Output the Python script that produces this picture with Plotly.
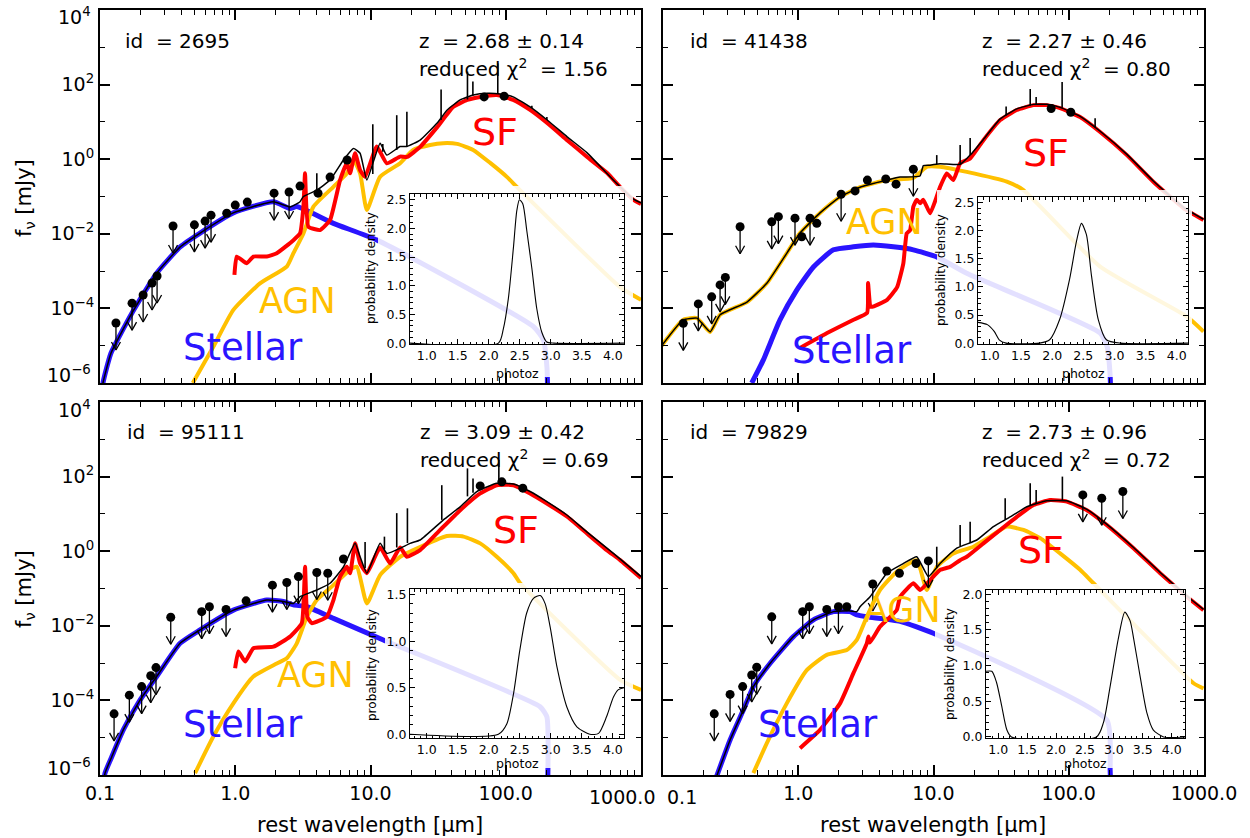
import numpy as np
import plotly.graph_objects as go

W, H = 1250, 838
FONT = "DejaVu Sans"
BLUE = "#2a14ff"
GOLD = "#ffc000"
RED = "#ff0000"
NB = "\u00a0"

# ---------------- panel meta ----------------
PANEL_ID = ["2695", "41438", "95111", "79829"]
PANEL_Z = ["2.68", "2.27", "3.09", "2.73"]
PANEL_ZERR = ["0.14", "0.46", "0.42", "0.96"]
PANEL_CHI2 = ["1.56", "0.80", "0.69", "0.72"]

# ---------------- panel 1 : id 2695 (log10 wavelength [um], log10 flux [mJy]) ----------------
p1_stellar_lx = [-0.99, -0.978, -0.919, -0.763, -0.58, -0.407, -0.26, -0.015, 0.282, 0.405, 0.455, 0.726, 1.049, 2.205, 2.279, 2.305, 2.31]
p1_stellar_ly = [-6.4, -6.0, -5.2, -4.12, -3.05, -2.35, -1.98, -1.44, -1.14, -1.32, -1.27, -1.72, -2.17, -4.49, -4.85, -5.6, -6.3]
p1_agn_lx = [-0.314, -0.162, -0.014, 0.183, 0.381, 0.430, 0.504, 0.578, 0.726, 0.825, 0.874, 0.923, 0.973, 1.071, 1.219, 1.315, 1.441, 1.537, 1.640, 1.759, 1.885, 2.010, 2.084, 2.846, 3.0]
p1_agn_ly = [-6.0, -5.03, -4.04, -3.33, -2.88, -2.52, -1.99, -1.27, -0.74, -0.38, -0.02, -0.38, -1.36, -0.47, -0.11, 0.25, 0.38, 0.43, 0.41, 0.25, -0.10, -0.48, -0.75, -3.43, -3.77]
p1_sf_lx = [-0.006, 0.011, 0.085, 0.134, 0.233, 0.307, 0.430, 0.479, 0.504, 0.516, 0.541, 0.627, 0.701, 0.775, 0.825, 0.849, 0.886, 0.923, 0.960, 1.046, 1.120, 1.219, 1.271, 1.367, 1.493, 1.611, 1.715, 1.811, 1.936, 2.055, 2.180, 2.306, 2.454, 2.602, 2.750, 2.846, 2.944, 3.0]
p1_sf_ly = [-3.10, -2.61, -2.79, -2.61, -2.61, -2.52, -2.17, -1.99, -1.27, -0.38, -1.81, -1.90, -1.63, -0.56, -0.11, -0.38, 0.16, -0.29, -0.47, 0.34, -0.11, 0.07, 0.06, 0.33, 0.86, 1.40, 1.59, 1.67, 1.72, 1.59, 1.32, 0.97, 0.51, 0.06, -0.37, -0.75, -1.09, -1.20]
p1_tot_lx = [-0.99, -0.978, -0.919, -0.763, -0.58, -0.407, -0.26, -0.015, 0.282, 0.405, 0.479, 0.504, 0.603, 0.701, 0.800, 0.874, 0.923, 0.973, 1.071, 1.120, 1.219, 1.269, 1.367, 1.493, 1.567, 1.663, 1.759, 1.863, 1.959, 2.055, 2.180, 2.306, 2.454, 2.602, 2.795, 2.944, 3.0]
p1_tot_ly = [-6.4, -6.0, -5.2, -4.12, -3.05, -2.35, -1.98, -1.44, -1.14, -1.28, -1.14, -1.00, -0.83, -0.56, -0.02, 0.29, 0.16, -0.56, 0.43, 0.11, 0.34, 0.34, 0.51, 0.97, 1.32, 1.59, 1.72, 1.77, 1.75, 1.67, 1.40, 1.05, 0.60, 0.17, -0.56, -1.07, -1.17]
p1_spike_lx = [0.603, 1.017, 1.091, 1.194, 1.269, 1.522, 1.717, 1.757, 1.941, 2.193, 2.304]
p1_spike_base = [-0.83, -0.40, 0.20, 0.25, 0.34, 1.05, 1.60, 1.70, 1.75, 1.37, 1.05]
p1_spike_top = [-0.38, 0.94, 0.41, 1.18, 1.27, 1.87, 2.35, 2.08, 2.57, 1.43, 1.13]
p1_pt_lx = [-0.882, -0.763, -0.681, -0.615, -0.578, -0.460, -0.302, -0.223, -0.179, -0.063, 0.0, 0.089, 0.287, 0.398, 0.479, 0.612, 0.701, 0.827, 1.840, 1.988]
p1_pt_ly = [-4.39, -3.86, -3.64, -3.32, -3.13, -1.79, -1.76, -1.66, -1.50, -1.45, -1.23, -1.15, -0.91, -0.88, -0.72, -0.91, -0.48, -0.02, 1.67, 1.69]
p1_pt_ul = [1, 1, 1, 1, 1, 1, 1, 1, 1, 0, 0, 0, 1, 1, 0, 0, 0, 0, 0, 0]
p1_pdf_z = [0.73, 2.155, 2.235, 2.316, 2.397, 2.452, 2.494, 2.548, 2.613, 2.694, 2.774, 2.855, 2.935, 3.05, 4.18]
p1_pdf_p = [0.0, 0.0, 0.25, 0.78, 1.66, 2.31, 2.50, 2.43, 1.96, 1.31, 0.60, 0.19, 0.02, 0.0, 0.0]

# ---------------- panel 2 : id 41438 ----------------
p2_stellar_lx = [-0.344, -0.258, -0.135, -0.011, 0.112, 0.260, 0.408, 0.555, 0.703, 0.851, 1.024, 1.246, 2.232, 2.284, 2.306, 2.31]
p2_stellar_ly = [-6.0, -5.38, -4.31, -3.51, -2.89, -2.43, -2.35, -2.30, -2.35, -2.43, -2.62, -3.06, -4.66, -5.03, -5.8, -6.3]
p2_agn_lx = [-1.02, -0.852, -0.749, -0.652, -0.578, -0.379, -0.231, -0.083, 0.013, 0.161, 0.309, 0.457, 0.657, 0.851, 0.953, 1.049, 1.246, 1.542, 1.665, 2.232, 2.874, 2.996]
p2_agn_ly = [-5.05, -4.31, -4.26, -4.63, -4.17, -3.83, -3.32, -2.51, -1.98, -1.44, -1.01, -0.75, -0.56, -0.50, -0.20, -0.20, -0.34, -0.60, -0.83, -2.88, -4.22, -4.62]
p2_sf_lx = [0.013, 0.213, 0.405, 0.509, 0.516, 0.538, 0.657, 0.731, 0.777, 0.802, 0.827, 0.851, 0.876, 0.901, 0.925, 0.975, 1.024, 1.049, 1.098, 1.147, 1.197, 1.271, 1.369, 1.493, 1.616, 1.739, 1.838, 1.936, 2.084, 2.232, 2.430, 2.627, 2.848, 2.996]
p2_sf_ly = [-5.06, -4.66, -4.31, -4.12, -3.32, -3.96, -3.77, -3.43, -2.79, -1.99, -1.90, -1.27, -1.09, -1.18, -1.09, -1.45, -1.00, -0.74, -0.38, -0.56, -0.11, 0.02, 0.51, 1.05, 1.32, 1.45, 1.45, 1.37, 1.13, 0.73, 0.11, -0.61, -1.31, -1.63]
p2_tot_lx = [-1.02, -0.852, -0.749, -0.652, -0.578, -0.379, -0.231, -0.083, 0.013, 0.161, 0.309, 0.457, 0.657, 0.753, 0.900, 0.925, 0.975, 1.049, 1.197, 1.271, 1.369, 1.493, 1.616, 1.739, 1.838, 1.936, 2.084, 2.232, 2.430, 2.627, 2.848, 2.996]
p2_tot_ly = [-5.05, -4.31, -4.26, -4.63, -4.17, -3.83, -3.32, -2.51, -1.98, -1.44, -1.01, -0.75, -0.56, -0.48, -0.45, -0.17, -0.16, -0.12, -0.14, 0.11, 0.53, 1.08, 1.35, 1.47, 1.47, 1.39, 1.15, 0.75, 0.13, -0.59, -1.29, -1.61]
p2_spike_lx = [1.024, 1.197, 1.271, 1.537, 1.715, 1.759, 1.951, 2.195]
p2_spike_base = [-0.13, -0.14, 0.11, 1.17, 1.43, 1.47, 1.38, 0.85]
p2_spike_top = [0.11, 0.38, 0.57, 1.41, 1.88, 1.67, 2.07, 1.10]
p2_pt_lx = [-0.850, -0.739, -0.640, -0.578, -0.539, -0.430, -0.196, -0.147, -0.024, 0.026, 0.087, 0.137, 0.317, 0.420, 0.511, 0.647, 0.723, 0.851, 1.870, 2.015]
p2_pt_ly = [-4.40, -3.88, -3.69, -3.37, -3.17, -1.81, -1.68, -1.54, -1.58, -2.08, -1.58, -1.72, -0.94, -0.85, -0.56, -0.53, -0.67, -0.27, 1.36, 1.26]
p2_pt_ul = [1, 1, 1, 1, 1, 1, 1, 1, 1, 0, 1, 0, 1, 0, 0, 0, 0, 1, 0, 0]
p2_pdf_z = [0.81, 0.96, 1.07, 1.15, 1.26, 1.80, 1.96, 2.12, 2.28, 2.39, 2.47, 2.55, 2.63, 2.74, 2.87, 3.09, 4.18]
p2_pdf_p = [0.37, 0.33, 0.21, 0.06, 0.0, 0.0, 0.06, 0.42, 1.14, 1.81, 2.13, 1.93, 1.21, 0.42, 0.06, 0.0, 0.0]

# ---------------- panel 3 : id 95111 ----------------
p3_stellar_lx = [-0.975, -0.963, -0.913, -0.828, -0.704, -0.581, -0.408, -0.260, -0.014, 0.233, 0.356, 0.430, 0.529, 0.726, 1.095, 2.254, 2.304, 2.31]
p3_stellar_ly = [-6.3, -5.95, -5.51, -4.79, -3.99, -3.36, -2.47, -2.11, -1.58, -1.31, -1.35, -1.44, -1.49, -1.80, -2.38, -4.17, -4.44, -6.3]
p3_agn_lx = [-0.297, -0.162, -0.014, 0.134, 0.307, 0.381, 0.455, 0.529, 0.603, 0.726, 0.849, 0.899, 0.973, 1.071, 1.219, 1.317, 1.564, 1.688, 1.811, 1.934, 2.057, 2.107, 2.846, 3.0]
p3_agn_ly = [-5.95, -4.97, -4.08, -3.36, -3.01, -2.87, -2.47, -1.76, -1.31, -0.91, -0.50, -0.42, -1.40, -0.64, -0.15, 0.03, 0.41, 0.39, 0.21, -0.15, -0.59, -0.86, -3.45, -3.72]
p3_sf_lx = [-0.001, 0.023, 0.073, 0.134, 0.282, 0.405, 0.492, 0.516, 0.533, 0.566, 0.677, 0.726, 0.775, 0.825, 0.849, 0.886, 0.923, 0.973, 1.071, 1.145, 1.219, 1.269, 1.367, 1.515, 1.663, 1.811, 1.934, 2.057, 2.180, 2.304, 2.452, 2.599, 2.747, 2.846, 3.0]
p3_sf_ly = [-3.14, -2.69, -2.96, -2.60, -2.56, -2.29, -1.93, -0.42, -1.76, -1.93, -1.76, -1.31, -0.68, -0.42, -0.59, 0.21, -0.33, -0.59, 0.10, -0.33, 0.10, -0.15, 0.03, 0.57, 1.10, 1.55, 1.77, 1.77, 1.55, 1.28, 0.93, 0.48, 0.03, -0.24, -0.72]
p3_tot_lx = [-0.975, -0.963, -0.913, -0.828, -0.704, -0.581, -0.408, -0.260, -0.014, 0.233, 0.356, 0.430, 0.479, 0.603, 0.701, 0.800, 0.886, 0.923, 0.973, 1.071, 1.121, 1.219, 1.293, 1.367, 1.539, 1.663, 1.786, 1.934, 2.057, 2.180, 2.304, 2.452, 2.599, 2.796, 3.0]
p3_tot_ly = [-6.3, -5.95, -5.51, -4.79, -3.99, -3.36, -2.47, -2.11, -1.58, -1.31, -1.35, -1.40, -1.22, -1.04, -0.86, -0.42, 0.21, -0.15, -0.59, 0.21, -0.06, 0.08, 0.21, 0.30, 0.84, 1.19, 1.60, 1.82, 1.80, 1.60, 1.33, 0.97, 0.52, -0.06, -0.68]
p3_spike_lx = [0.960, 1.103, 1.194, 1.273, 1.527, 1.717, 1.758, 1.949]
p3_spike_base = [-0.45, 0.05, 0.10, 0.22, 0.84, 1.47, 1.57, 1.82]
p3_spike_top = [0.25, 0.39, 1.02, 1.15, 1.77, 2.22, 1.95, 2.45]
p3_pt_lx = [-0.896, -0.783, -0.692, -0.625, -0.586, -0.477, -0.248, -0.191, -0.068, 0.080, 0.275, 0.381, 0.467, 0.603, 0.684, 0.800, 1.811, 1.971, 2.126]
p3_pt_ly = [-4.36, -3.86, -3.63, -3.34, -3.12, -1.77, -1.62, -1.49, -1.56, -1.33, -0.91, -0.84, -0.68, -0.57, -0.59, -0.21, 1.75, 1.86, 1.69]
p3_pt_ul = [1, 1, 1, 1, 1, 1, 1, 1, 1, 0, 1, 1, 1, 1, 1, 0, 0, 0, 0]
p3_pdf_z = [0.73, 2.155, 2.29, 2.40, 2.50, 2.61, 2.72, 2.83, 2.91, 2.99, 3.10, 3.26, 3.42, 3.63, 3.77, 3.90, 4.01, 4.09, 4.18]
p3_pdf_p = [0.0, 0.0, 0.11, 0.44, 0.90, 1.30, 1.46, 1.49, 1.40, 1.15, 0.72, 0.29, 0.08, 0.0, 0.01, 0.19, 0.40, 0.48, 0.50]

# ---------------- panel 4 : id 79829 ----------------
p4_stellar_lx = [-0.61, -0.504, -0.406, -0.332, -0.209, -0.036, 0.112, 0.260, 0.383, 0.433, 0.507, 0.753, 0.999, 2.282, 2.306, 2.31]
p4_stellar_ly = [-6.1, -5.06, -4.26, -3.63, -3.01, -2.29, -1.84, -1.62, -1.62, -1.71, -1.76, -1.88, -2.20, -4.53, -5.87, -6.3]
p4_agn_lx = [-0.332, -0.233, -0.085, 0.063, 0.211, 0.359, 0.433, 0.507, 0.605, 0.728, 0.876, 0.950, 1.024, 1.147, 1.295, 1.419, 1.542, 1.665, 1.789, 1.936, 2.084, 2.183, 2.923, 2.996]
p4_agn_ly = [-5.95, -5.15, -4.08, -3.19, -2.78, -2.65, -2.38, -1.76, -1.04, -0.55, -0.24, -1.04, -0.42, -0.06, 0.12, 0.39, 0.66, 0.57, 0.35, -0.06, -0.50, -0.86, -3.54, -3.68]
p4_sf_lx = [0.013, 0.161, 0.309, 0.408, 0.507, 0.519, 0.530, 0.605, 0.728, 0.753, 0.851, 0.901, 0.999, 1.049, 1.123, 1.197, 1.246, 1.369, 1.493, 1.616, 1.739, 1.862, 1.986, 2.134, 2.282, 2.479, 2.676, 2.874, 2.996]
p4_sf_ly = [-5.28, -4.79, -4.08, -3.27, -2.47, -2.29, -2.45, -2.02, -1.58, -1.22, -0.86, -1.04, -0.68, -0.50, -0.42, -0.24, -0.15, 0.21, 0.57, 0.92, 1.24, 1.37, 1.33, 1.10, 0.70, 0.08, -0.59, -1.22, -1.58]
p4_tot_lx = [-0.61, -0.504, -0.406, -0.332, -0.209, -0.036, 0.112, 0.260, 0.383, 0.433, 0.457, 0.531, 0.655, 0.777, 0.876, 0.962, 1.049, 1.172, 1.320, 1.443, 1.567, 1.690, 1.838, 1.986, 2.134, 2.282, 2.479, 2.676, 2.874, 2.996]
p4_tot_ly = [-6.1, -5.06, -4.26, -3.63, -3.01, -2.29, -1.84, -1.62, -1.60, -1.62, -1.49, -1.22, -0.59, -0.33, -0.15, -0.68, -0.33, 0.08, 0.30, 0.66, 0.92, 1.19, 1.35, 1.35, 1.12, 0.72, 0.10, -0.57, -1.20, -1.56]
p4_spike_lx = [1.024, 1.197, 1.271, 1.530, 1.715, 1.759, 1.953]
p4_spike_base = [-0.45, 0.12, 0.22, 0.85, 1.22, 1.27, 1.35]
p4_spike_top = [0.12, 0.70, 0.79, 1.42, 1.82, 1.64, 2.00]
p4_pt_lx = [-0.621, -0.504, -0.411, -0.344, -0.307, -0.196, 0.033, 0.082, 0.211, 0.297, 0.359, 0.551, 0.655, 0.748, 0.871, 0.962, 2.104, 2.244, 2.400]
p4_pt_ly = [-4.36, -3.84, -3.63, -3.32, -3.11, -1.76, -1.62, -1.49, -1.56, -1.49, -1.49, -0.88, -0.53, -0.59, -0.33, -0.26, 1.51, 1.42, 1.60]
p4_pt_ul = [1, 1, 1, 1, 1, 1, 1, 1, 1, 1, 0, 1, 0, 0, 0, 1, 1, 1, 1]
p4_pdf_z = [0.79, 0.89, 0.97, 1.06, 1.15, 1.23, 2.70, 2.82, 2.93, 3.08, 3.19, 3.28, 3.34, 3.46, 3.57, 3.68, 3.86, 4.23]
p4_pdf_p = [0.92, 0.92, 0.77, 0.44, 0.10, 0.0, 0.0, 0.20, 0.68, 1.39, 1.75, 1.63, 1.39, 0.82, 0.34, 0.10, 0.0, 0.0]

# ---------------- axis tick labels ----------------
X_TICKS = [0.1, 1.0, 10.0, 100.0, 1000.0]
X_TICKTEXT = ["0.1", "1.0", "10.0", "100.0", "1000.0"]
Y_TICKS = [1e-6, 1e-4, 1e-2, 1e0, 1e2, 1e4]
Y_TICKTEXT = ["10<sup>\u22126</sup>", "10<sup>\u22124</sup>", "10<sup>\u22122</sup>",
              "10<sup>0</sup>", "10<sup>2</sup>", "10<sup>4</sup>"]

# ---------------- layout geometry (pixels) ----------------
MAIN_BOX = [(100, 641, 10, 383), (663, 1204, 10, 383), (100, 641, 402, 775), (663, 1204, 402, 775)]
INSET_BOX = [(410, 624, 194, 344), (978, 1188, 197, 344), (410, 624, 589, 738), (986, 1185, 590, 738)]
INSET_XR = [[0.73, 4.18], [0.81, 4.18], [0.73, 4.18], [0.79, 4.23]]
INSET_YR = [[-0.015, 2.6], [-0.015, 2.6], [-0.04, 1.56], [-0.015, 2.06]]
INSET_YMAX = [2.5, 2.5, 1.5, 2.0]
FADE_BOX = [(378, 633, 186, 377), (937, 1192, 190, 377), (385, 633, 583, 768), (935, 1191, 584, 768)]
LAB_SF = [(495, 132), (1046, 153), (516, 530), (1041, 550)]
LAB_AGN = [(297, 301), (884, 222), (315, 675), (902, 610)]
LAB_ST = [(243, 347), (852, 350), (243, 724), (818, 724)]
ID_POS = [(123, 41), (688, 41), (125, 432), (688, 432)]
Z_POS = [(417, 41), (980, 41), (418, 432), (980, 432)]
CHI_POS = [(417, 68), (980, 68), (418, 459), (980, 459)]
PD_POS = [(371, 268), (941, 270), (372, 665), (950, 664)]
PZ_POS = [(517, 373), (1083, 373), (517, 763), (1085, 763)]
# edge tick labels placed inside the panel extent, as in the original
YEDGE_LAB = [("10<sup>4</sup>", 93, 16), ("10<sup>\u22126</sup>", 93, 374),
             ("10<sup>4</sup>", 93, 409), ("10<sup>\u22126</sup>", 93, 767)]
XEDGE_LAB = [("1000.0", 622, 797), ("0.1", 682, 797)]

panels = [
    dict(st=(p1_stellar_lx, p1_stellar_ly), agn=(p1_agn_lx, p1_agn_ly), sf=(p1_sf_lx, p1_sf_ly),
         tot=(p1_tot_lx, p1_tot_ly), spk=(p1_spike_lx, p1_spike_base, p1_spike_top),
         pts=(p1_pt_lx, p1_pt_ly, p1_pt_ul), pdf=(p1_pdf_z, p1_pdf_p)),
    dict(st=(p2_stellar_lx, p2_stellar_ly), agn=(p2_agn_lx, p2_agn_ly), sf=(p2_sf_lx, p2_sf_ly),
         tot=(p2_tot_lx, p2_tot_ly), spk=(p2_spike_lx, p2_spike_base, p2_spike_top),
         pts=(p2_pt_lx, p2_pt_ly, p2_pt_ul), pdf=(p2_pdf_z, p2_pdf_p)),
    dict(st=(p3_stellar_lx, p3_stellar_ly), agn=(p3_agn_lx, p3_agn_ly), sf=(p3_sf_lx, p3_sf_ly),
         tot=(p3_tot_lx, p3_tot_ly), spk=(p3_spike_lx, p3_spike_base, p3_spike_top),
         pts=(p3_pt_lx, p3_pt_ly, p3_pt_ul), pdf=(p3_pdf_z, p3_pdf_p)),
    dict(st=(p4_stellar_lx, p4_stellar_ly), agn=(p4_agn_lx, p4_agn_ly), sf=(p4_sf_lx, p4_sf_ly),
         tot=(p4_tot_lx, p4_tot_ly), spk=(p4_spike_lx, p4_spike_base, p4_spike_top),
         pts=(p4_pt_lx, p4_pt_ly, p4_pt_ul), pdf=(p4_pdf_z, p4_pdf_p)),
]


def px(xp):
    return xp / W


def py(yp):
    return 1 - yp / H


def pw(a):
    return np.power(10.0, np.asarray(a, dtype=float))


# arrow style (in decades, derived from pixel sizes)
PX_PER_DEX_X = (641 - 100) / 4.0
PX_PER_DEX_Y = (383 - 10) / 10.0
ARROW_LEN = 27 / PX_PER_DEX_Y
HEAD_W = 4.5 / PX_PER_DEX_X
HEAD_H = 8 / PX_PER_DEX_Y

fig = go.Figure()
layout = dict(width=W, height=H, margin=dict(l=0, r=0, t=0, b=0, pad=0, autoexpand=False), autosize=False,
              paper_bgcolor="white", plot_bgcolor="rgba(0,0,0,0)", showlegend=False,
              font=dict(family=FONT, color="black"))
annotations = []


def ann(text, pos, size, color="black", xanchor="center", angle=0):
    annotations.append(dict(text=text, x=px(pos[0]), y=py(pos[1]), xref="paper", yref="paper",
                            xanchor=xanchor, yanchor="middle", showarrow=False, textangle=angle,
                            font=dict(family=FONT, size=size, color=color)))


for i, p in enumerate(panels):
    n = i + 1
    xa = "x" if n == 1 else f"x{n}"
    ya = "y" if n == 1 else f"y{n}"
    ni = n + 4
    xi, yi = f"x{ni}", f"y{ni}"

    # components
    fig.add_trace(go.Scatter(x=pw(p["st"][0]), y=pw(p["st"][1]), mode="lines",
                             line=dict(color=BLUE, width=5, shape="spline", smoothing=0.5),
                             xaxis=xa, yaxis=ya, hoverinfo="skip"))
    fig.add_trace(go.Scatter(x=pw(p["agn"][0]), y=pw(p["agn"][1]), mode="lines",
                             line=dict(color=GOLD, width=4, shape="spline", smoothing=0.5),
                             xaxis=xa, yaxis=ya, hoverinfo="skip"))
    fig.add_trace(go.Scatter(x=pw(p["sf"][0]), y=pw(p["sf"][1]), mode="lines",
                             line=dict(color=RED, width=4, shape="spline", smoothing=0.4),
                             xaxis=xa, yaxis=ya, hoverinfo="skip"))
    fig.add_trace(go.Scatter(x=pw(p["tot"][0]), y=pw(p["tot"][1]), mode="lines",
                             line=dict(color="black", width=1.5, shape="spline", smoothing=0.4),
                             xaxis=xa, yaxis=ya, hoverinfo="skip"))
    # emission-line spikes
    sx, sy = [], []
    for a, b, t in zip(*p["spk"]):
        sx += [10 ** a, 10 ** a, None]
        sy += [10 ** b, 10 ** t, None]
    fig.add_trace(go.Scatter(x=sx, y=sy, mode="lines", line=dict(color="black", width=1.6),
                             xaxis=xa, yaxis=ya, hoverinfo="skip"))
    # photometry
    lxs, lys, uls = p["pts"]
    fig.add_trace(go.Scatter(x=pw(lxs), y=pw(lys), mode="markers",
                             marker=dict(color="black", size=9, symbol="circle"),
                             xaxis=xa, yaxis=ya, hoverinfo="skip"))
    ax_, ay_ = [], []
    for a, b, u in zip(lxs, lys, uls):
        if not u:
            continue
        tip = b - ARROW_LEN
        ax_ += [10 ** a, 10 ** a, None, 10 ** (a - HEAD_W), 10 ** a, 10 ** (a + HEAD_W), None]
        ay_ += [10 ** b, 10 ** tip, None, 10 ** (tip + HEAD_H), 10 ** tip, 10 ** (tip + HEAD_H), None]
    fig.add_trace(go.Scatter(x=ax_, y=ay_, mode="lines", line=dict(color="black", width=1.3),
                             xaxis=xa, yaxis=ya, hoverinfo="skip"))

    # translucent white box behind the inset
    x0, x1, y0, y1 = MAIN_BOX[i]
    fx0, fx1, fy0, fy1 = FADE_BOX[i]

    def lxp(v):
        return -1 + 4.0 * (v - x0) / (x1 - x0)

    def lyp(v):
        return 4 - 10.0 * (v - y0) / (y1 - y0)

    rx = [lxp(fx0), lxp(fx1), lxp(fx1), lxp(fx0), lxp(fx0)]
    ry = [lyp(fy0), lyp(fy0), lyp(fy1), lyp(fy1), lyp(fy0)]
    fig.add_trace(go.Scatter(x=pw(rx), y=pw(ry), mode="lines", fill="toself",
                             fillcolor="rgba(255,255,255,0.87)", line=dict(width=0, color="rgba(0,0,0,0)"),
                             xaxis=xa, yaxis=ya, hoverinfo="skip"))

    # inset pdf
    fig.add_trace(go.Scatter(x=p["pdf"][0], y=p["pdf"][1], mode="lines",
                             line=dict(color="black", width=1.1, shape="spline", smoothing=0.7),
                             xaxis=xi, yaxis=yi, hoverinfo="skip"))

    # main axes
    bottom = n in (3, 4)
    left = n in (1, 3)
    xtext = list(X_TICKTEXT)
    if n == 3:
        xtext[-1] = ""
    if n == 4:
        xtext[0] = ""
    ytext = list(Y_TICKTEXT)
    ytext[0] = ""
    ytext[-1] = ""
    minor_x = [k * 10.0 ** d for d in range(-1, 3) for k in range(2, 10)]
    layout["xaxis" if n == 1 else f"xaxis{n}"] = dict(
        type="log", range=[-1, 3], domain=[px(x0), px(x1)], anchor=ya, automargin=False,
        showline=True, linewidth=2, linecolor="black", mirror="allticks",
        ticks="inside", ticklen=10, tickwidth=1.5, tickcolor="black",
        tickvals=X_TICKS, ticktext=xtext, showticklabels=bottom,
        tickfont=dict(family=FONT, size=19, color="black"),
        showgrid=False, zeroline=False, fixedrange=True,
        minor=dict(ticks="inside", ticklen=5, tickwidth=1.3, tickcolor="black",
                   tickvals=minor_x, showgrid=False))
    layout["yaxis" if n == 1 else f"yaxis{n}"] = dict(
        type="log", range=[-6, 4], domain=[py(y1), py(y0)], anchor=xa, automargin=False,
        showline=True, linewidth=2, linecolor="black", mirror="allticks",
        ticks="inside", ticklen=10, tickwidth=1.5, tickcolor="black",
        tickvals=Y_TICKS, ticktext=ytext, showticklabels=left,
        tickfont=dict(family=FONT, size=19, color="black"),
        showgrid=False, zeroline=False, fixedrange=True,
        minor=dict(ticks="inside", ticklen=5, tickwidth=1.3, tickcolor="black",
                   tickvals=[1e-5, 1e-3, 1e-1, 1e1, 1e3], showgrid=False))

    # inset axes
    bx0, bx1, by0, by1 = INSET_BOX[i]
    ixt = [1.0, 1.5, 2.0, 2.5, 3.0, 3.5, 4.0]
    iyt = [v * 0.5 for v in range(int(INSET_YMAX[i] / 0.5) + 1)]
    layout[f"xaxis{ni}"] = dict(
        range=INSET_XR[i], domain=[px(bx0), px(bx1)], anchor=yi, automargin=False,
        showline=True, linewidth=1, linecolor="black", mirror="allticks",
        ticks="inside", ticklen=5, tickwidth=1, tickcolor="black",
        tickvals=ixt, ticktext=[f"{v:.1f}" for v in ixt],
        tickfont=dict(family=FONT, size=12.5, color="black"),
        showgrid=False, zeroline=False, fixedrange=True,
        minor=dict(ticks="inside", ticklen=2.5, tickwidth=1, tickcolor="black",
                   dtick=0.1, tick0=0, showgrid=False))
    layout[f"yaxis{ni}"] = dict(
        range=INSET_YR[i], domain=[py(by1), py(by0)], anchor=xi, automargin=False,
        showline=True, linewidth=1, linecolor="black", mirror="allticks",
        ticks="inside", ticklen=5, tickwidth=1, tickcolor="black",
        tickvals=iyt, ticktext=[f"{v:.1f}" for v in iyt],
        tickfont=dict(family=FONT, size=12.5, color="black"),
        showgrid=False, zeroline=False, fixedrange=True,
        minor=dict(ticks="inside", ticklen=2.5, tickwidth=1, tickcolor="black",
                   dtick=0.1, tick0=0, showgrid=False))

    ann("id" + NB + " = " + PANEL_ID[i], ID_POS[i], 20, xanchor="left")
    ann("z" + NB + " = " + PANEL_Z[i] + " \u00b1 " + PANEL_ZERR[i], Z_POS[i], 20, xanchor="left")
    ann("reduced \u03c7<sup>2</sup>" + NB + " = " + PANEL_CHI2[i], CHI_POS[i], 20, xanchor="left")
    ann("SF", LAB_SF[i], 38, color=RED)
    ann("AGN", LAB_AGN[i], 35, color=GOLD)
    ann("Stellar", LAB_ST[i], 37, color=BLUE)
    ann("probability density", PD_POS[i], 12, angle=-90)
    ann("photoz", PZ_POS[i], 12.5)

for text, xx, yy in YEDGE_LAB:
    ann(text, (xx, yy), 19, xanchor="right")
for text, xx, yy in XEDGE_LAB:
    ann(text, (xx, yy), 19)

# axis titles
for pos in [(25, 198), (25, 589)]:
    ann("f<sub>\u03bd</sub> [mJy]", pos, 21, angle=-90)
for pos in [(370, 825), (933, 825)]:
    ann("rest wavelength [\u03bcm]", pos, 21)

layout["annotations"] = annotations
fig.update_layout(**layout)
fig.write_html("out.html")
